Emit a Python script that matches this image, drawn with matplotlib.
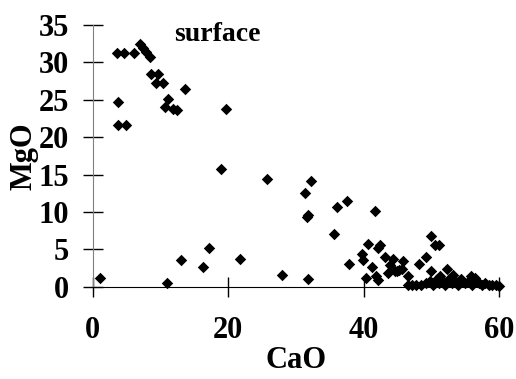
import matplotlib.pyplot as plt

# CaO / MgO values
cao = [1.1, 3.6, 4.6, 3.7, 3.7, 4.9, 6.1, 6.9, 7.4, 7.9, 8.4, 8.6, 9.6, 9.3, 10.3,
       13.6, 11.1, 10.7, 11.8, 12.5, 10.9, 13.0, 16.3, 17.1, 19.6, 19.0, 21.8, 25.7,
       28.0, 31.4, 31.6, 31.8, 31.8, 32.2, 35.6, 36.0, 37.5, 37.9, 39.8, 39.9, 40.4,
       40.7, 41.2, 41.7, 41.9, 42.1, 42.1, 42.4, 43.1, 43.6, 43.9, 44.4, 44.6, 45.0,
       45.3, 45.6, 45.8, 46.6, 48.2, 49.2, 49.9, 50.0, 50.5, 50.7, 51.2, 51.3, 52.3,
       53.2, 54.2, 55.9,
       46.5, 47.2, 47.8, 48.5, 49.2, 49.8, 50.3, 50.8, 51.2, 51.7, 52.0, 52.6, 53.0,
       53.5, 54.0, 54.4, 55.0, 55.5, 56.0, 56.4, 57.0, 57.5, 58.0, 58.5, 59.0, 59.5,
       60.0]
mgo = [1.2, 31.2, 31.2, 24.7, 21.6, 21.6, 31.3, 32.4, 31.9, 31.4, 30.7, 28.5, 28.5,
       27.3, 27.3, 26.4, 25.1, 24.0, 23.8, 23.6, 0.5, 3.6, 2.6, 5.2, 23.8, 15.7, 3.7,
       14.4, 1.6, 12.6, 9.3, 9.6, 1.1, 14.2, 7.1, 10.7, 11.5, 3.0, 4.4, 3.6, 1.2, 5.8,
       2.7, 10.1, 1.4, 5.2, 0.9, 5.6, 4.0, 1.8, 2.9, 3.7, 2.1, 2.1, 2.3, 2.4, 3.5, 1.4,
       3.0, 4.0, 2.1, 6.8, 5.6, 0.7, 5.6, 1.4, 2.4, 1.6, 0.9, 1.4,
       0.2, 0.2, 0.2, 0.3, 0.5, 0.8, 0.3, 1.0, 0.5, 0.8, 0.3, 1.0, 0.5,
       0.8, 0.3, 1.0, 0.5, 0.8, 0.3, 1.2, 0.5, 0.3, 0.5, 0.2, 0.3, 0.2,
       0.1]

plt.rcParams['font.family'] = ['Liberation Serif', 'DejaVu Serif']
plt.rcParams['font.weight'] = 'bold'

fig = plt.figure(figsize=(5.16, 3.79), dpi=100)
ax = fig.add_axes([0.180, 0.243, 0.787, 0.691])

ax.scatter(cao, mgo, marker='D', s=34, color='black', linewidths=0, clip_on=False, zorder=3)

ax.set_xlim(0, 60)
ax.set_ylim(0, 35)
ax.set_xticks([0, 20, 40, 60])
ax.set_yticks(range(0, 36, 5))

for s in ['top', 'right']:
    ax.spines[s].set_visible(False)
ax.spines['left'].set_color('#808080')
ax.spines['bottom'].set_color('black')

ax.tick_params(axis='both', direction='inout', length=14, width=1, labelsize=22)
ax.tick_params(axis='y', colors='black', pad=10)
ax.tick_params(axis='x', pad=14)
for lbl in ax.get_xticklabels() + ax.get_yticklabels():
    lbl.set_fontweight('bold')

ax.set_xlabel('CaO', fontsize=22, fontweight='bold', labelpad=1)
ax.set_ylabel('MgO', fontsize=22, fontweight='bold', labelpad=0)

ax.text(0.20, 1.01, 'surface', transform=ax.transAxes, fontsize=20,
        fontweight='bold', va='top', ha='left')

fig.savefig('out.png', dpi=100)
